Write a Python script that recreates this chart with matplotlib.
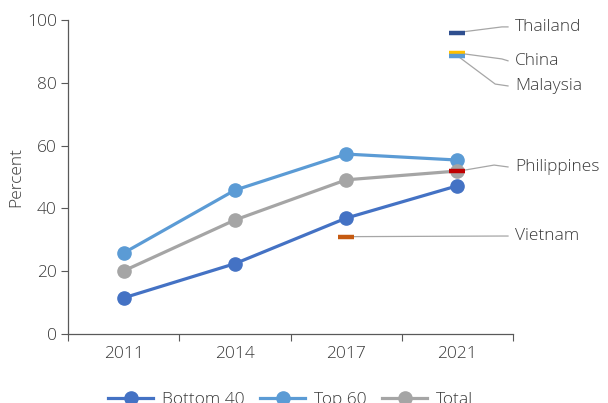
import matplotlib
matplotlib.use("Agg")
import matplotlib.pyplot as plt

plt.rcParams["font.family"] = ["Open Sans", "DejaVu Sans"]
plt.rcParams["font.weight"] = "light"
plt.rcParams["axes.labelweight"] = "light"

# -----------------------------
# Data
# -----------------------------
years = ["2011", "2014", "2017", "2021"]
bottom40 = [11.5, 22.4, 36.9, 47.2]
top60 = [25.8, 45.8, 57.3, 55.4]
total = [20.1, 36.3, 49.1, 51.9]

# country reference points: (name, year index, value)
countries = ["Thailand", "China", "Malaysia", "Philippines", "Vietnam"]
country_year = [3, 3, 3, 3, 2]
country_vals = [96.0, 89.5, 88.6, 51.8, 31.0]
country_colors = ["#2F4F8F", "#FFC000", "#5B9BD5", "#C00000", "#C55A11"]
label_y = [97.8, 87.0, 79.0, 53.2, 31.2]
elbow_x = [3.40, 3.40, 3.34, 3.33, 3.40]
elbow_y = [97.8, 87.6, 79.6, 53.8, 31.2]

SERIES_COLORS = {"Bottom 40": "#4472C4", "Top 60": "#5B9BD5", "Total": "#A5A5A5"}
TEXT = "#3A3A3A"
FS = 12.5

# -----------------------------
# Plot
# -----------------------------
fig = plt.figure(figsize=(6.08, 4.03), dpi=100)
ax = fig.add_axes([68 / 608, 1 - 334 / 403, 445 / 608, 314 / 403])

x = list(range(len(years)))
for name, vals in [("Bottom 40", bottom40), ("Top 60", top60), ("Total", total)]:
    ax.plot(x, vals, color=SERIES_COLORS[name], lw=2.3, marker="o",
            markersize=9.5, label=name, zorder=3)

for name, xi, v, c, ly, ex, ey in zip(countries, country_year, country_vals,
                                     country_colors, label_y, elbow_x, elbow_y):
    ax.plot([xi, ex, 3.455], [v, ey, ly], color="#A6A6A6", lw=0.9,
            zorder=2, clip_on=False)
    ax.plot([xi], [v], marker="_", markersize=11, markeredgewidth=3.2,
            color=c, zorder=4, clip_on=False)
    ax.text(3.52, ly, name, fontsize=FS, color=TEXT, va="center",
            ha="left", clip_on=False)

ax.set_xlim(-0.5, 3.5)
ax.set_ylim(0, 100)
ax.set_yticks(range(0, 101, 20))
ax.set_xticks([i + 0.5 for i in range(-1, 4)], minor=False)
ax.set_xticklabels([])
ax.set_xticks(x, minor=True)
ax.set_xticklabels(years, minor=True)
ax.tick_params(axis="x", which="major", length=5, color="#595959", direction="out")
ax.tick_params(axis="x", which="minor", length=0, labelsize=FS,
               labelcolor=TEXT, pad=9)
ax.tick_params(axis="y", length=5, color="#595959", labelsize=FS,
               labelcolor=TEXT, pad=3)

for s in ["top", "right"]:
    ax.spines[s].set_visible(False)
for s in ["left", "bottom"]:
    ax.spines[s].set_color("#595959")
    ax.spines[s].set_linewidth(0.9)

ax.set_ylabel("Percent", fontsize=FS, color=TEXT, labelpad=2)

ax.legend(loc="center", bbox_to_anchor=(0.50, -0.21), ncol=3, frameon=False,
          fontsize=FS, labelcolor=TEXT, handlelength=2.6, columnspacing=0.9,
          handletextpad=0.5)

plt.savefig("out.png", dpi=100)
plt.close()
